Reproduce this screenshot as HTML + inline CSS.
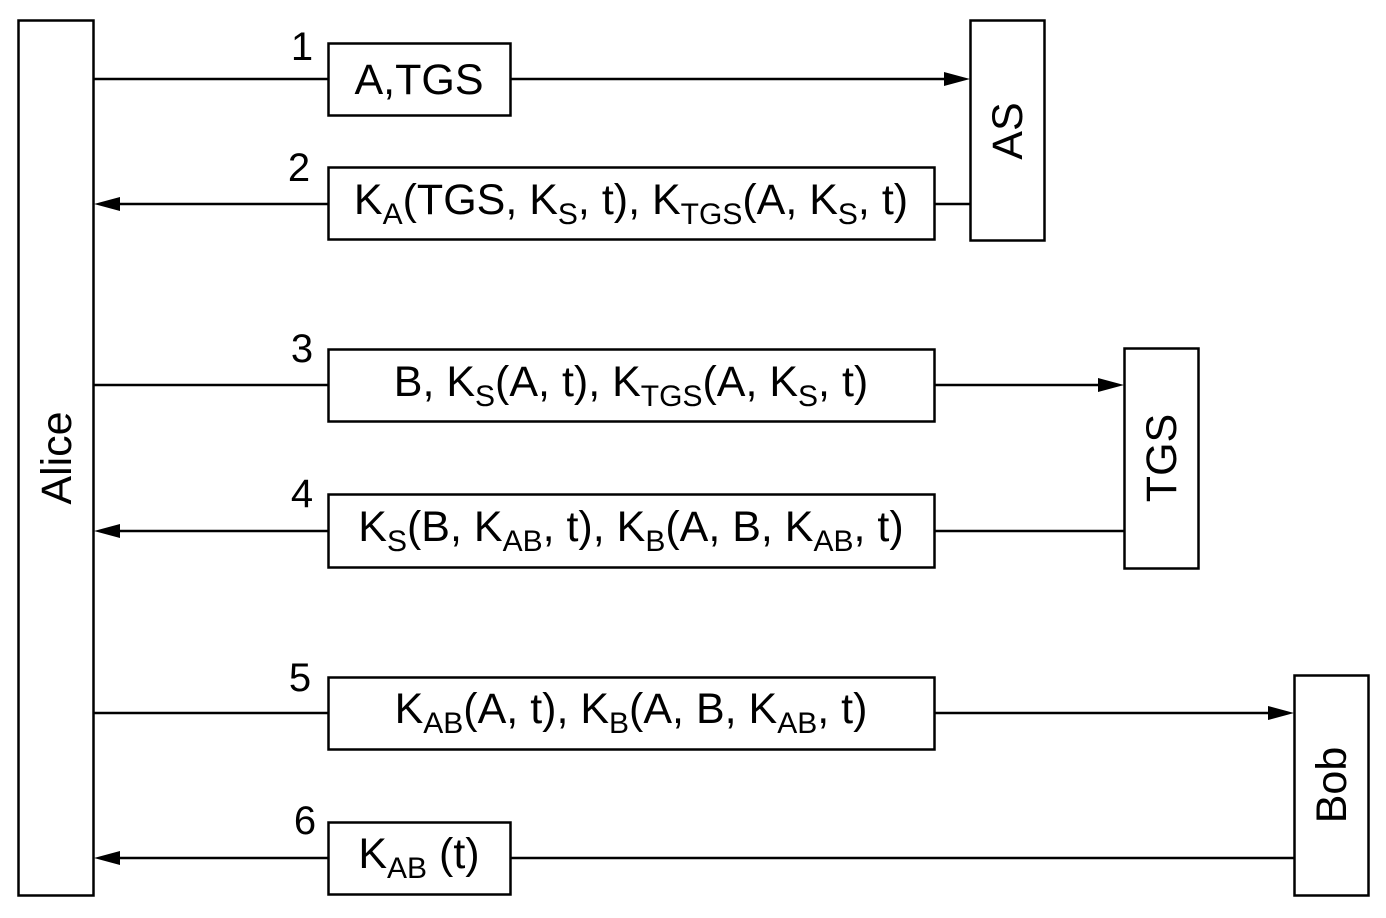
<!DOCTYPE html>
<html><head><meta charset="utf-8"><style>
html,body{margin:0;padding:0;background:#fff;}
svg{display:block;}
text{font-family:"Liberation Sans",Arial,sans-serif;fill:#000;}
</style></head><body>
<svg width="1386" height="918" viewBox="0 0 1386 918" xmlns="http://www.w3.org/2000/svg">
<g fill="none" stroke="#000" stroke-width="2.5">
<rect x="18.5" y="20.5" width="75" height="875"/>
<rect x="970.5" y="20.5" width="74" height="220"/>
<rect x="1124.5" y="348.5" width="74" height="220"/>
<rect x="1294.5" y="675.5" width="74" height="220"/>
<rect x="328.5" y="43.5" width="182" height="72"/>
<rect x="328.5" y="167.5" width="606" height="72"/>
<rect x="328.5" y="349.5" width="606" height="72"/>
<rect x="328.5" y="494.5" width="606" height="73"/>
<rect x="328.5" y="677.5" width="606" height="72"/>
<rect x="328.5" y="822.5" width="182" height="72"/>
<path d="M94 79H328M510 79H948"/>
<path d="M118 204H328M935 204H970"/>
<path d="M94 385H328M935 385H1102"/>
<path d="M118 531H328M935 531H1124"/>
<path d="M94 713H328M935 713H1272"/>
<path d="M118 858H328M510 858H1294"/>
</g>
<g fill="#000">
<path d="M970 79L944 72V86Z"/>
<path d="M94 204L120 197V211Z"/>
<path d="M1124 385L1098 378V392Z"/>
<path d="M94 531L120 524V538Z"/>
<path d="M1294 713L1268 706V720Z"/>
<path d="M94 858L120 851V865Z"/>
</g>
<g font-size="43">
<text x="57" y="458" text-anchor="middle" dominant-baseline="central" transform="rotate(-90 57 458)">Alice</text>
<text x="1008" y="131" text-anchor="middle" dominant-baseline="central" transform="rotate(-90 1008 131)">AS</text>
<text x="1162" y="458" text-anchor="middle" dominant-baseline="central" transform="rotate(-90 1162 458)">TGS</text>
<text x="1332" y="785" text-anchor="middle" dominant-baseline="central" transform="rotate(-90 1332 785)">Bob</text>
</g>
<g font-size="40">
<text x="302" y="60" text-anchor="middle">1</text>
<text x="299" y="181" text-anchor="middle">2</text>
<text x="302" y="362" text-anchor="middle">3</text>
<text x="302" y="507" text-anchor="middle">4</text>
<text x="300" y="691" text-anchor="middle">5</text>
<text x="305" y="834" text-anchor="middle">6</text>
</g>
<g font-size="43">
<text x="419" y="94" text-anchor="middle">A,TGS</text>
<text x="631" y="214" text-anchor="middle">K<tspan font-size="30" dy="10">A</tspan><tspan dy="-10">(TGS, K</tspan><tspan font-size="30" dy="10">S</tspan><tspan dy="-10">, t), K</tspan><tspan font-size="30" dy="10">TGS</tspan><tspan dy="-10">(A, K</tspan><tspan font-size="30" dy="10">S</tspan><tspan dy="-10">, t)</tspan></text>
<text x="631" y="396" text-anchor="middle">B, K<tspan font-size="30" dy="10">S</tspan><tspan dy="-10">(A, t), K</tspan><tspan font-size="30" dy="10">TGS</tspan><tspan dy="-10">(A, K</tspan><tspan font-size="30" dy="10">S</tspan><tspan dy="-10">, t)</tspan></text>
<text x="631" y="541" text-anchor="middle">K<tspan font-size="30" dy="10">S</tspan><tspan dy="-10">(B, K</tspan><tspan font-size="30" dy="10">AB</tspan><tspan dy="-10">, t), K</tspan><tspan font-size="30" dy="10">B</tspan><tspan dy="-10">(A, B, K</tspan><tspan font-size="30" dy="10">AB</tspan><tspan dy="-10">, t)</tspan></text>
<text x="631" y="723" text-anchor="middle">K<tspan font-size="30" dy="10">AB</tspan><tspan dy="-10">(A, t), K</tspan><tspan font-size="30" dy="10">B</tspan><tspan dy="-10">(A, B, K</tspan><tspan font-size="30" dy="10">AB</tspan><tspan dy="-10">, t)</tspan></text>
<text x="419" y="868" text-anchor="middle">K<tspan font-size="30" dy="10">AB</tspan><tspan dy="-10"> (t)</tspan></text>
</g>
</svg>
</body></html>
